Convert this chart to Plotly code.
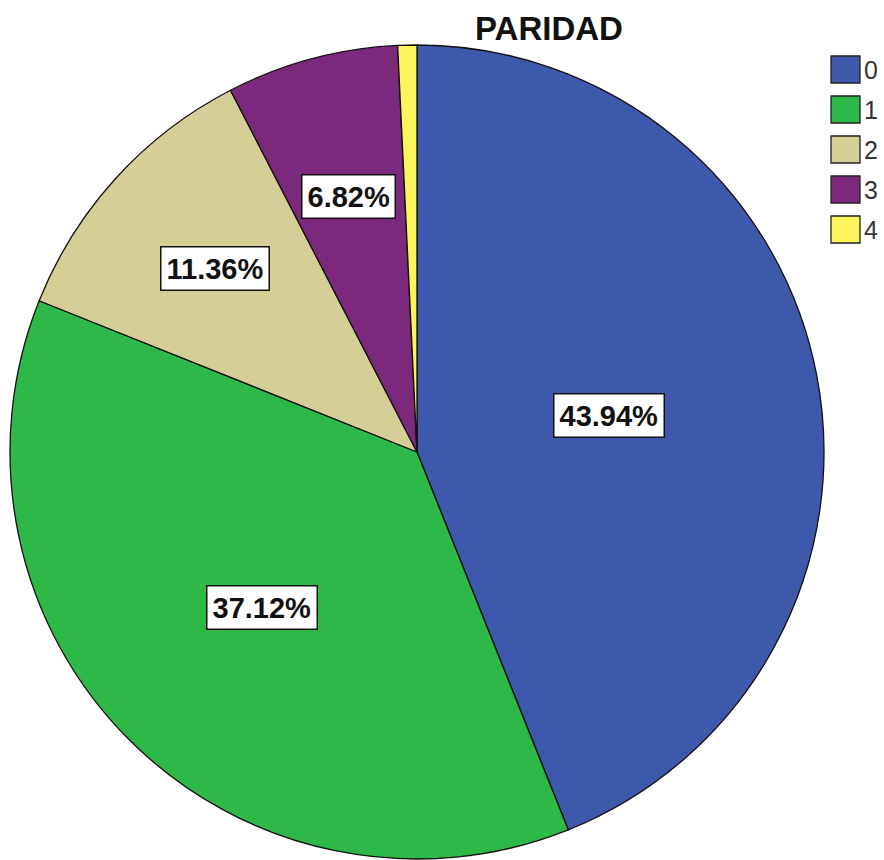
import math
import plotly.graph_objects as go

# Parity distribution (number of previous births)
categories = ["0", "1", "2", "3", "4"]
counts = [58, 49, 15, 9, 1]
colors = ["#3E58AC", "#2EB848", "#D6CE97", "#7C287D", "#FBF45A"]
# radial position of each percentage box (fraction of radius); None = no box
label_radius = [0.48, 0.54, 0.67, 0.65, None]

W, H = 884, 860
cx, cy, R = 417, 452, 407  # pie centre and radius in pixels
FONT = "Liberation Sans, Arial, sans-serif"

fig = go.Figure(go.Pie(
    labels=categories,
    values=counts,
    sort=False,
    direction="clockwise",
    rotation=0,
    marker=dict(colors=colors, line=dict(color="#111111", width=1.3)),
    textinfo="none",
    hoverinfo="label+percent",
    domain=dict(x=[(cx - R) / W, (cx + R) / W],
                y=[1 - (cy + R) / H, 1 - (cy - R) / H]),
    showlegend=False,
))

# percentage boxes placed along each slice's mid angle
total = sum(counts)
cum = 0
for v, rf in zip(counts, label_radius):
    mid = (cum + v / 2) / total * 2 * math.pi
    cum += v
    if rf is None:
        continue
    px = cx + rf * R * math.sin(mid)
    py = cy - rf * R * math.cos(mid)
    fig.add_annotation(
        x=px / W, y=1 - py / H, xref="paper", yref="paper",
        xanchor="center", yanchor="middle",
        text=f"<b>{v / total * 100:.2f}%</b>", showarrow=False,
        font=dict(family=FONT, size=29, color="#111111"),
        bgcolor="white", bordercolor="#111111", borderwidth=1.5, borderpad=5,
    )

# legend: coloured squares with category names
for i, (cat, col) in enumerate(zip(categories, colors)):
    top = 56 + i * 40
    fig.add_shape(type="rect", xref="paper", yref="paper",
                  x0=831 / W, x1=860 / W, y0=1 - (top + 27) / H, y1=1 - top / H,
                  fillcolor=col, line=dict(color="#222222", width=1.3))
    fig.add_annotation(x=862 / W, y=1 - (top + 14) / H, xref="paper", yref="paper",
                       text=cat, showarrow=False, xanchor="left", yanchor="middle",
                       font=dict(family=FONT, size=25, color="#333333"))

fig.add_annotation(x=549 / W, y=1 - 28 / H, xref="paper", yref="paper",
                   xanchor="center", yanchor="middle",
                   text="<b>PARIDAD</b>", showarrow=False,
                   font=dict(family=FONT, size=33, color="#111111"))

fig.update_layout(width=W, height=H, margin=dict(l=0, r=0, t=0, b=0),
                  paper_bgcolor="white", plot_bgcolor="white")

fig.write_html("out.html")
